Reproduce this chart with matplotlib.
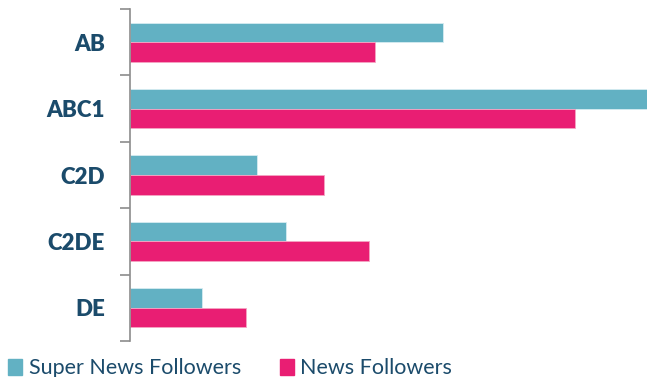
import numpy as np
import matplotlib.pyplot as plt
from matplotlib.patches import Patch

categories = ['AB', 'ABC1', 'C2D', 'C2DE', 'DE']
super_news = [313, 518, 127, 156, 72]
news = [245, 445, 194, 239, 116]

teal = '#62B1C3'
pink = '#E91E73'
navy = '#1B4B6B'

fig = plt.figure(figsize=(6.47, 3.77), dpi=100)
ax = fig.add_axes([130 / 647, 1 - 341 / 377, 517 / 647, 332 / 377])

y = np.arange(len(categories))
h = 0.295
ax.barh(y - h / 2, super_news, height=h, color=teal, edgecolor='#D6ECF1', linewidth=0.6)
ax.barh(y + h / 2, news, height=h, color=pink, edgecolor='#F5A5C3', linewidth=0.6)

ax.set_xlim(0, 517)
ax.set_ylim(len(categories) - 0.5, -0.5)
ax.set_yticks(y)
ax.set_yticklabels(categories, fontsize=16, fontweight='heavy', color=navy, family='Lato')
ax.set_yticks(np.arange(len(categories) + 1) - 0.5, minor=True)
ax.tick_params(axis='y', which='major', length=0, pad=18)
ax.tick_params(axis='y', which='minor', length=7, width=1.2, color='#8C8C8C')
ax.set_xticks([])
for side in ['top', 'right', 'bottom']:
    ax.spines[side].set_visible(False)
ax.spines['left'].set_color('#8C8C8C')
ax.spines['left'].set_linewidth(1.2)

handles = [Patch(color=teal, label='Super News Followers'),
           Patch(color=pink, label='News Followers')]
fig.legend(handles=handles, loc='lower left', bbox_to_anchor=(-0.017, -0.055), ncol=2,
           frameon=False, prop={'family': 'Lato', 'size': 15.5},
           labelcolor=navy, handlelength=0.65, handleheight=0.75,
           handletextpad=0.3, columnspacing=1.8)

fig.savefig('out.png', dpi=100)
